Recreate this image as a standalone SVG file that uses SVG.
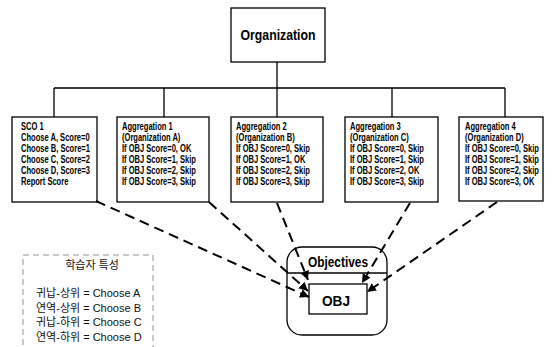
<svg xmlns="http://www.w3.org/2000/svg" width="557" height="347" viewBox="0 0 557 347">
  <defs>
    <style>
      .box { fill: #fff; stroke: #000; stroke-width: 1.3; }
      .tree { fill: none; stroke: #000; stroke-width: 1.3; }
      .dash { fill: none; stroke: #000; stroke-width: 2; stroke-dasharray: 10 6; }
      .t { font-family: "Liberation Sans", Arial, sans-serif; font-size: 10.5px; font-weight: bold; fill: #000; }
      .big { font-family: "Liberation Sans", Arial, sans-serif; font-weight: bold; fill: #000; }
      .kr { font-family: "Liberation Sans", "Noto Sans CJK KR", sans-serif; font-size: 11px; fill: #111; }
      .legend { fill: #fff; stroke: #777; stroke-width: 0.8; stroke-dasharray: 6 4; }
    </style>
    <marker id="arrow" viewBox="0 0 10 10" refX="10" refY="5" markerWidth="9" markerHeight="9" markerUnits="userSpaceOnUse" orient="auto">
      <path d="M0,0 L10,5 L0,10 Z" fill="#000"/>
    </marker>
  </defs>

  <rect width="557" height="347" fill="#fff"/>

  <!-- tree lines from Organization to its children -->
  <g id="tree">
    <path class="tree" d="M277,62 V117 M54,88 H505 M54,88 V117 M164,88 V117 M392,88 V117 M505,88 V117"/>
  </g>

  <g id="organization">
    <rect class="box" x="231" y="8" width="94" height="54"/>
    <text class="big" x="278" y="40" font-size="15" text-anchor="middle" textLength="75" lengthAdjust="spacingAndGlyphs">Organization</text>
  </g>

  <g id="sco1">
    <rect class="box" x="12" y="117" width="85" height="85"/>
    <g transform="translate(21,0) scale(0.72,1)">
      <text class="t" x="0" y="130.5">SCO 1</text>
      <text class="t" x="0" y="141.5">Choose A, Score=0</text>
      <text class="t" x="0" y="152.5">Choose B, Score=1</text>
      <text class="t" x="0" y="163.5">Choose C, Score=2</text>
      <text class="t" x="0" y="174.5">Choose D, Score=3</text>
      <text class="t" x="0" y="185">Report Score</text>
    </g>
  </g>

  <g id="aggregation1">
    <rect class="box" x="117" y="117" width="92" height="85"/>
    <g transform="translate(122,0) scale(0.72,1)">
      <text class="t" x="0" y="130.5">Aggregation 1</text>
      <text class="t" x="0" y="141.5">(Organization A)</text>
      <text class="t" x="0" y="152.5">If OBJ Score=0, OK</text>
      <text class="t" x="0" y="163.5">If OBJ Score=1, Skip</text>
      <text class="t" x="0" y="174.5">If OBJ Score=2, Skip</text>
      <text class="t" x="0" y="185">If OBJ Score=3, Skip</text>
    </g>
  </g>

  <g id="aggregation2">
    <rect class="box" x="231" y="117" width="92" height="85"/>
    <g transform="translate(236,0) scale(0.72,1)">
      <text class="t" x="0" y="130.5">Aggregation 2</text>
      <text class="t" x="0" y="141.5">(Organization B)</text>
      <text class="t" x="0" y="152.5">If OBJ Score=0, Skip</text>
      <text class="t" x="0" y="163.5">If OBJ Score=1, OK</text>
      <text class="t" x="0" y="174.5">If OBJ Score=2, Skip</text>
      <text class="t" x="0" y="185">If OBJ Score=3, Skip</text>
    </g>
  </g>

  <g id="aggregation3">
    <rect class="box" x="345" y="117" width="93" height="85"/>
    <g transform="translate(350,0) scale(0.72,1)">
      <text class="t" x="0" y="130.5">Aggregation 3</text>
      <text class="t" x="0" y="141.5">(Organization C)</text>
      <text class="t" x="0" y="152.5">If OBJ Score=0, Skip</text>
      <text class="t" x="0" y="163.5">If OBJ Score=1, Skip</text>
      <text class="t" x="0" y="174.5">If OBJ Score=2, OK</text>
      <text class="t" x="0" y="185">If OBJ Score=3, Skip</text>
    </g>
  </g>

  <g id="aggregation4">
    <rect class="box" x="459" y="117" width="84" height="84"/>
    <g transform="translate(465,0) scale(0.72,1)">
      <text class="t" x="0" y="130.5">Aggregation 4</text>
      <text class="t" x="0" y="141.5">(Organization D)</text>
      <text class="t" x="0" y="152.5">If OBJ Score=0, Skip</text>
      <text class="t" x="0" y="163.5">If OBJ Score=1, Skip</text>
      <text class="t" x="0" y="174.5">If OBJ Score=2, Skip</text>
      <text class="t" x="0" y="185">If OBJ Score=3, OK</text>
    </g>
  </g>

  <g id="objectives">
    <rect class="box" x="287" y="247" width="100" height="88" rx="15" ry="15"/>
    <line class="tree" x1="287" y1="273" x2="387" y2="273"/>
    <text class="big" x="338" y="267" font-size="14" text-anchor="middle" textLength="60" lengthAdjust="spacingAndGlyphs">Objectives</text>
  </g>

  <g id="obj">
    <rect class="box" x="309" y="284" width="58" height="30"/>
    <text class="big" x="336" y="306" font-size="14" font-weight="normal" text-anchor="middle" textLength="28" lengthAdjust="spacingAndGlyphs">OBJ</text>
  </g>

  <!-- dashed links from each node to the objective -->
  <g id="connectors">
    <path class="dash" marker-end="url(#arrow)" d="M96,201 L309,297"/>
    <path class="dash" marker-end="url(#arrow)" d="M209,202 L308,291"/>
    <path class="dash" marker-end="url(#arrow)" d="M277,203 L308,280"/>
    <path class="dash" marker-end="url(#arrow)" d="M410,203 L362,283"/>
    <path class="dash" marker-end="url(#arrow)" d="M497,202 L367,292"/>
  </g>

  <g id="learner-traits">
    <rect class="legend" x="23" y="255" width="130" height="100"/>
    <text class="kr" x="92" y="269" text-anchor="middle">학습자 특성</text>
    <text class="kr" x="36" y="297">귀납-상위 = Choose A</text>
    <text class="kr" x="36" y="311.5">연역-상위 = Choose B</text>
    <text class="kr" x="36" y="326">귀납-하위 = Choose C</text>
    <text class="kr" x="36" y="340.5">연역-하위 = Choose D</text>
  </g>
</svg>
